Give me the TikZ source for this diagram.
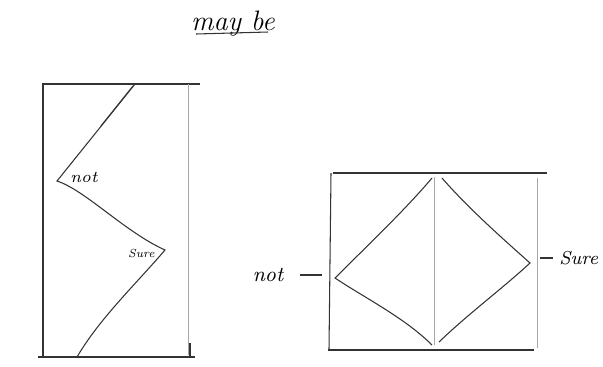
\documentclass[tikz,border=0pt]{standalone}
\begin{document}
\begin{tikzpicture}[x=0.15mm,y=-0.15mm,every node/.style={font=\itshape},
  ink/.style={black!80,line width=0.45pt},
  faint/.style={black!35,line width=0.4pt}]
\useasboundingbox (0,0) rectangle (603,366);
% title
\node[font=\large\itshape] (title) at (233,24) {may be};
\draw[ink] (196,34) -- (268,32);
% first sketch
\draw[ink] (42,84) -- (200,84);
\draw[ink] (43,84) -- (43,357);
\draw[faint] (188,84) -- (188,355);
\draw[ink] (38,357) -- (195,357);
\draw[ink] (190,343) -- (190,357);
\coordinate (top) at (135,84);
\coordinate (notpt) at (57,181);
\coordinate (surept) at (165,250);
\coordinate (foot) at (77,357);
\draw[ink] (top) -- (notpt) .. controls (85,190) and (125,232) .. (surept)
  .. controls (135,285) and (100,318) .. (foot);
\draw[ink] (133,86) -- (101,126);
\node[font=\scriptsize\itshape,anchor=west] (nota) at (62,177) {not};
\node[font=\tiny\itshape,anchor=east] (surea) at (163,253) {Sure};
% second sketch
\draw[ink] (333,173) -- (547,173);
\draw[ink] (331,173) -- (329,349);
\draw[ink] (328,350) -- (534,350);
\draw[faint] (537,178) -- (537,348);
\draw[faint] (434,177) -- (434,345);
\coordinate (lt) at (432,178);
\coordinate (lm) at (335,278);
\coordinate (lb) at (432,345);
\coordinate (rt) at (442,178);
\coordinate (rm) at (530,263);
\coordinate (rb) at (439,342);
\draw[ink] (lt) .. controls (405,210) and (365,248) .. (lm)
  .. controls (365,298) and (405,318) .. (lb);
\draw[ink] (rt) .. controls (468,208) and (502,238) .. (rm)
  .. controls (503,288) and (468,314) .. (rb);
\node[font=\small\itshape] (notb) at (268,275) {not};
\coordinate (notdash) at (300,275);
\draw[ink] (notdash) -- ++(22,0);
\node[font=\footnotesize\itshape,anchor=east,inner sep=1pt] (sureb) at (601,258) {Sure};
\coordinate (suredash) at (540,258);
\draw[ink] (suredash) -- ++(13,0);
\end{tikzpicture}
\end{document}
